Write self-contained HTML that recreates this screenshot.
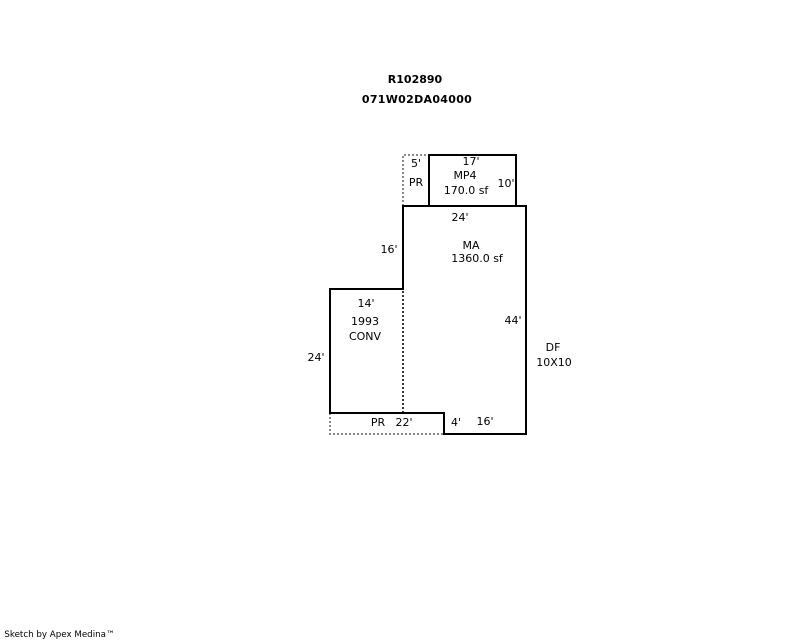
<!DOCTYPE html>
<html>
<head>
<meta charset="utf-8">
<style>
html,body{margin:0;padding:0;background:#fff;width:800px;height:640px;overflow:hidden}
svg{display:block}
text{font-family:"DejaVu Sans","Liberation Sans",sans-serif;font-size:11px;fill:#000;text-anchor:middle}
.b{font-weight:bold;font-size:11px}
</style>
</head>
<body>
<svg width="800" height="640" viewBox="0 0 800 640" xmlns="http://www.w3.org/2000/svg">
<g fill="none">
<path d="M403 206V155H429" stroke="#8a8a8a" stroke-width="2" stroke-dasharray="2 2"/>
<path d="M330 413V434H444" stroke="#8a8a8a" stroke-width="2" stroke-dasharray="2 2"/>
<path d="M403 291V413" stroke="#333" stroke-width="2" stroke-dasharray="2 2"/>
</g>
<g fill="none" shape-rendering="crispEdges">
<path d="M429 205V155H516V205" stroke="#000" stroke-width="2"/>
<path d="M403 206H526V434H444V413H330V289H403Z" stroke="#000" stroke-width="2"/>
</g>
<text class="b" x="415" y="83">R102890</text>
<text class="b" x="417" y="103" style="letter-spacing:.3px">071W02DA04000</text>
<text x="416" y="167">5'</text>
<text x="416" y="186">PR</text>
<text x="471" y="165">17'</text>
<text x="465" y="179">MP4</text>
<text x="466" y="194">170.0 sf</text>
<text x="506" y="187">10'</text>
<text x="460" y="221">24'</text>
<text x="389" y="253">16'</text>
<text x="471" y="249">MA</text>
<text x="477" y="262">1360.0 sf</text>
<text x="366" y="307">14'</text>
<text x="365" y="325">1993</text>
<text x="365" y="340">CONV</text>
<text x="513" y="324">44'</text>
<text x="316" y="361">24'</text>
<text x="553" y="351">DF</text>
<text x="554" y="366">10X10</text>
<text x="378" y="426">PR</text>
<text x="404" y="426">22'</text>
<text x="456" y="426">4'</text>
<text x="485" y="425">16'</text>
<text x="59.5" y="637" style="font-size:8.7px">Sketch by Apex Medina™</text>
</svg>
</body>
</html>
